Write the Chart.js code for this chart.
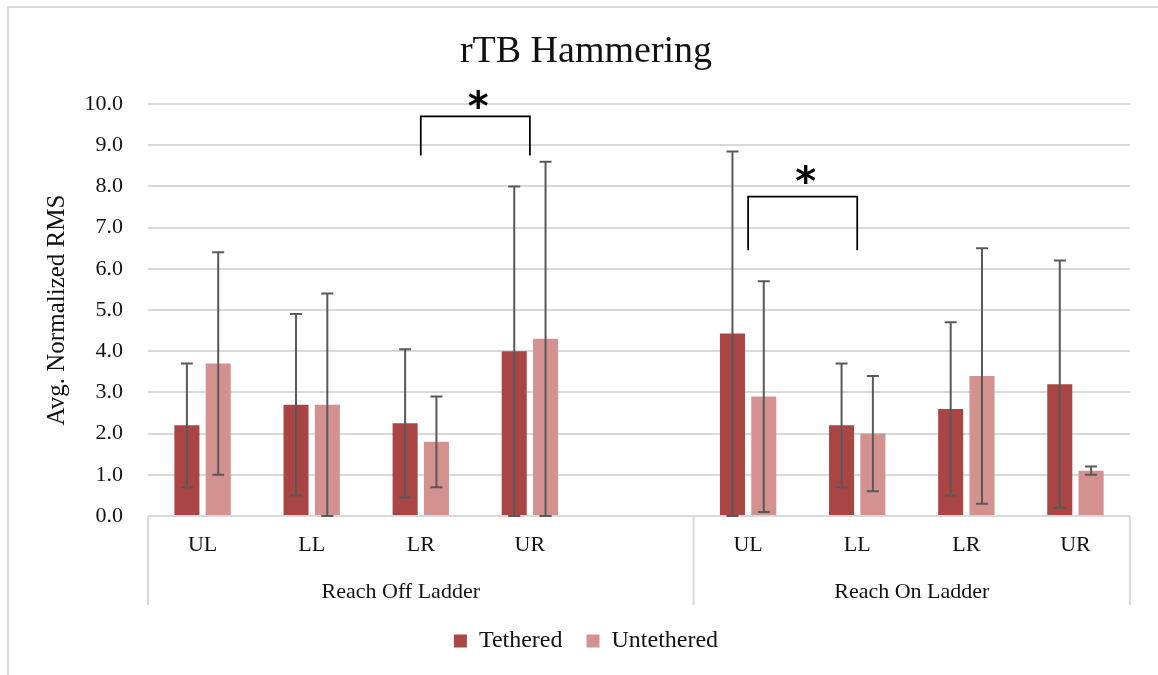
<!DOCTYPE html>
<html>
<head>
<meta charset="utf-8">
<script src="https://cdn.jsdelivr.net/npm/chart.js@4.4.1/dist/chart.umd.min.js"></script>
<style>
  html, body { margin: 0; padding: 0; background: #fff; }
  #wrap { position: relative; width: 1158px; height: 675px; overflow: hidden; }
  #frame { position: absolute; left: 7px; top: 6px; width: 1200px; height: 700px;
           border-left: 2px solid #d9d9d9; border-top: 2px solid #d9d9d9; }
  canvas { position: absolute; left: 0; top: 0; }
</style>
</head>
<body>
<div id="wrap">
  <div id="frame"></div>
  <canvas id="chart" width="1158" height="675"></canvas>
</div>
<script>
// --- datos ---
const categories = ["UL", "LL", "LR", "UR", "", "UL", "LL", "LR", "UR"];
const groupNames = ["Reach Off Ladder", "Reach On Ladder"];
const groupSizes = [5, 4];

const tethered = [2.2, 2.7, 2.25, 4.0, null, 4.43, 2.2, 2.6, 3.2];
const untethered = [3.7, 2.7, 1.8, 4.3, null, 2.9, 2.0, 3.4, 1.1];

const tetheredLow = [0.7, 0.5, 0.45, 0, null, 0, 0.7, 0.5, 0.2];
const tetheredHigh = [3.7, 4.9, 4.05, 8.0, null, 8.85, 3.7, 4.7, 6.2];
const untetheredLow = [1.0, 0, 0.7, 0, null, 0.1, 0.6, 0.3, 1.0];
const untetheredHigh = [6.4, 5.4, 2.9, 8.6, null, 5.7, 3.4, 6.5, 1.2];

// corchetes de significancia (índices de categoría y alturas en el eje y)
const sigFrom = [2, 5];
const sigTo = [3, 6];
const sigTop = [9.7, 7.75];
const sigBottom = [8.75, 6.45];
const sigStar = [10.12, 8.3];

Chart.defaults.font.family = "'Liberation Serif', serif";
Chart.defaults.color = "#111";

// barras de error
const errorBars = {
    id: "errorBars",
    afterDatasetsDraw(chart) {
        const ctx = chart.ctx;
        const y = chart.scales.y;
        const lows = [tetheredLow, untetheredLow];
        const highs = [tetheredHigh, untetheredHigh];
        ctx.save();
        ctx.strokeStyle = "#595959";
        ctx.lineWidth = 2;
        chart.data.datasets.forEach((ds, d) => {
            chart.getDatasetMeta(d).data.forEach((bar, i) => {
                if (lows[d][i] == null) return;
                const top = y.getPixelForValue(highs[d][i]);
                const bot = y.getPixelForValue(lows[d][i]);
                ctx.beginPath();
                ctx.moveTo(bar.x, top); ctx.lineTo(bar.x, bot);
                ctx.moveTo(bar.x - 6, top); ctx.lineTo(bar.x + 6, top);
                ctx.moveTo(bar.x - 6, bot); ctx.lineTo(bar.x + 6, bot);
                ctx.stroke();
            });
        });
        ctx.restore();
    }
};

// eje de grupos + corchetes
const extras = {
    id: "extras",
    afterDraw(chart) {
        const ctx = chart.ctx;
        const x = chart.scales.x;
        const y = chart.scales.y;
        const area = chart.chartArea;
        const slot = (area.right - area.left) / categories.length;

        ctx.save();
        ctx.strokeStyle = "#d9d9d9";
        ctx.lineWidth = 2;
        const bottom = x.bottom;
        let start = 0;
        const edges = [area.left];
        groupSizes.forEach(n => {
            start += n;
            edges.push(x.getPixelForValue(start - 1) + slot / 2);
        });
        edges.forEach(e => {
            ctx.beginPath();
            ctx.moveTo(e, area.bottom);
            ctx.lineTo(e, bottom);
            ctx.stroke();
        });

        ctx.fillStyle = "#111";
        ctx.font = "22px 'Liberation Serif'";
        ctx.textAlign = "center";
        ctx.textBaseline = "middle";
        groupNames.forEach((g, i) => {
            let cx = (edges[i] + edges[i + 1]) / 2;
            if (i === 0) cx -= 20; // etiqueta algo desplazada en el original
            ctx.fillText(g, cx, bottom - 13);
        });

        // corchetes
        ctx.strokeStyle = "#000";
        ctx.lineWidth = 1.75;
        ctx.fillStyle = "#000";
        ctx.font = "bold 40px 'DejaVu Sans'";
        ctx.textBaseline = "alphabetic";
        sigFrom.forEach((f, i) => {
            const x1 = x.getPixelForValue(f);
            const x2 = x.getPixelForValue(sigTo[i]);
            const yt = y.getPixelForValue(sigTop[i]);
            const yb = y.getPixelForValue(sigBottom[i]);
            ctx.beginPath();
            ctx.moveTo(x1, yb); ctx.lineTo(x1, yt);
            ctx.lineTo(x2, yt); ctx.lineTo(x2, yb);
            ctx.stroke();
            const m = ctx.measureText("*");
            const cy = y.getPixelForValue(sigStar[i]);
            const base = cy + (m.actualBoundingBoxAscent - m.actualBoundingBoxDescent) / 2;
            ctx.fillText("*", (x1 + x2) / 2 + 3, base);
        });
        ctx.restore();
    }
};

new Chart(document.getElementById("chart"), {
    type: "bar",
    data: {
        labels: categories,
        datasets: [
            {
                label: "Tethered",
                data: tethered,
                backgroundColor: "#a94645",
                categoryPercentage: 0.574,
                barPercentage: 0.8
            },
            {
                label: "Untethered",
                data: untethered,
                backgroundColor: "#d39190",
                categoryPercentage: 0.574,
                barPercentage: 0.8
            }
        ]
    },
    options: {
        responsive: false,
        animation: false,
        layout: { padding: { left: 42, right: 28, top: 0, bottom: 12 } },
        plugins: {
            title: {
                display: true,
                text: "rTB Hammering",
                font: { size: 38, weight: "normal" },
                color: "#111",
                padding: { top: 29, bottom: 29.4 }
            },
            legend: {
                position: "bottom",
                labels: {
                    boxWidth: 13,
                    boxHeight: 13,
                    padding: 24,
                    font: { size: 24 },
                    color: "#111"
                }
            },
            tooltip: { enabled: false }
        },
        scales: {
            x: {
                grid: { display: false, drawTicks: false },
                border: { display: false },
                ticks: { padding: 16, font: { size: 22 }, maxRotation: 0, autoSkip: false },
                afterFit: s => { s.height = 89; }
            },
            y: {
                min: 0,
                max: 10,
                ticks: {
                    stepSize: 1,
                    padding: 25,
                    font: { size: 22 },
                    callback: v => Number(v).toFixed(1)
                },
                grid: { color: "#d9d9d9", lineWidth: 2, drawTicks: false },
                border: { display: false },
                title: {
                    display: true,
                    text: "Avg. Normalized RMS",
                    font: { size: 25 },
                    padding: 0
                },
                afterFit: s => { s.width = 106; }
            }
        }
    },
    plugins: [errorBars, extras]
});
</script>
</body>
</html>
